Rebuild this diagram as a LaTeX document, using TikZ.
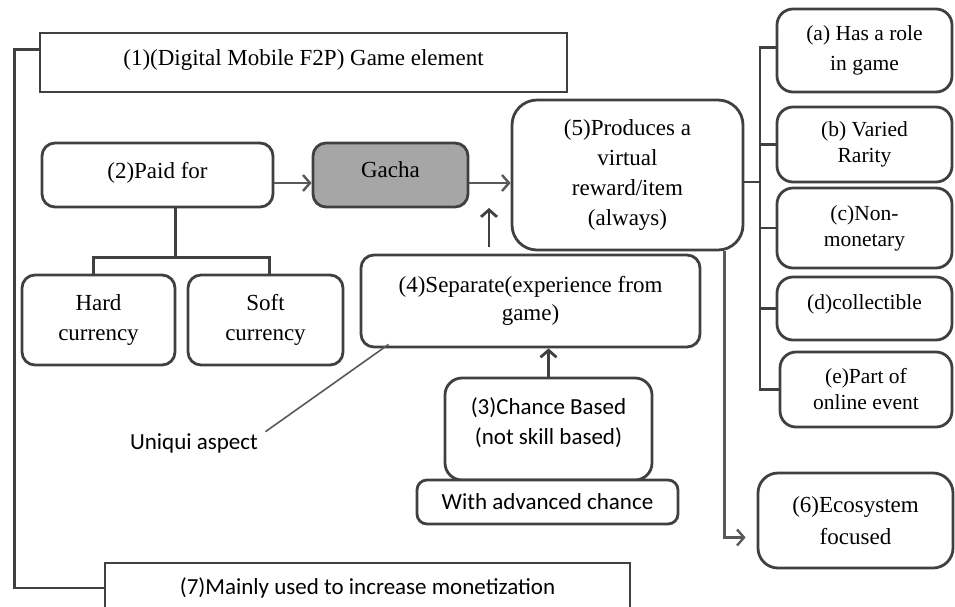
\documentclass[tikz,border=0pt]{standalone}
\usepackage{fontspec}
\setmainfont{Liberation Serif}
\newfontfamily\calibri{Carlito}
\usetikzlibrary{arrows.meta}
\definecolor{edge}{HTML}{404040}
\definecolor{link}{HTML}{595959}
\definecolor{gachagray}{HTML}{A6A6A6}
\begin{document}
\begin{tikzpicture}[x=1pt,y=-1pt,
  every node/.style={align=center,font=\fontsize{23}{30}\selectfont},
  flat/.style={draw=edge,line width=2.8pt,inner sep=0pt},
  box/.style={flat,rounded corners=13pt},
  side/.style={box,rounded corners=16pt,font=\fontsize{21.5}{30}\selectfont,minimum width=175pt},
  sans/.style={font=\calibri\fontsize{23}{30}\selectfont},
  link/.style={draw=link,line width=2.4pt},
  bar/.style={draw=edge,line width=2.8pt},
  >={Straight Barb[length=7pt,width=16pt]}]
\useasboundingbox (0,0) rectangle (955,606);

% boxes
\node[flat,minimum width=527pt,minimum height=59pt] (element) at (303.5,62.5) {(1)(Digital Mobile F2P) Game element\\[-21pt]};
\node[box,minimum width=231pt,minimum height=64pt] (paid) at (157.5,175) {(2)Paid for\\[-20pt]};
\node[box,fill=gachagray,minimum width=155pt,minimum height=64pt] (gacha) at (390.5,175) {Gacha\\[-20pt]};
\node[box,rounded corners=25pt,minimum width=231pt,minimum height=150pt] (reward) at (627.5,175) {(5)Produces a\\virtual\\reward/item\\(always)};
\node[box,minimum width=153pt,minimum height=90pt] (hard) at (98.5,320) {Hard\\currency};
\node[box,minimum width=155pt,minimum height=90pt] (soft) at (265.5,320) {Soft\\currency};
\node[box,minimum width=339pt,minimum height=92pt] (separate) at (530.5,301) {(4)Separate(experience from\\[-2pt]game)};
\node[box,sans,rounded corners=17pt,minimum width=207pt,minimum height=102pt] (chance) at (548.5,429) {(3)Chance Based\\(not skill based)\\[-14pt]};
\node[box,sans,fill=white,rounded corners=10pt,minimum width=261pt,minimum height=44pt] (advanced) at (547.5,502) {With advanced chance};
\node[sans] (aspect) at (194,443) {Uniqui aspect};

% right column
\node[side,minimum height=83pt] (role) at (864.5,50.5) {(a) Has a role\\in game};
\node[side,minimum height=75pt] (rarity) at (864.5,144.5) {(b) Varied\\[-4pt]Rarity};
\node[side,minimum height=80pt] (monetary) at (864.5,228) {(c)Non-\\[-4pt]monetary};
\node[side,minimum height=63pt] (collect) at (864.5,308.5) {(d)collectible\\[-18pt]};
\node[side,minimum width=172pt,minimum height=75pt] (event) at (866,389.5) {(e)Part of\\[-4pt]online event};
\node[box,rounded corners=20pt,minimum width=195pt,minimum height=95pt] (eco) at (855.5,520.5) {(6)Ecosystem\\[2pt]focused};
\node[flat,sans,minimum width=525pt,minimum height=50pt] (monet) at (367.5,588) {(7)Mainly used to increase monetization};

% connectors
\draw[bar] ([yshift=13pt]element.west) -- ++(-24,0) |- (monet.west);
\draw[link,->] ([yshift=-8pt]paid.east) -- ([yshift=-8pt]gacha.west);
\draw[link,->] ([yshift=-8pt]gacha.east) -- ([yshift=-8pt]reward.west);
\coordinate (up) at (489,208);
\draw[bar,->,shorten <=7pt] (separate.north -| up) -- (up);
\draw[bar] ([xshift=18pt]paid.south) -- ++(0,49) coordinate (fork);
\draw[bar] ([xshift=-5pt]hard.north) |- (fork) -| ([xshift=4pt]soft.north);
\draw[bar,->] (chance.north) -- (chance.north |- separate.south);
\draw[link,line width=1.6pt] ([xshift=4pt,yshift=-2pt]aspect.north east) -- ([xshift=29pt,yshift=4pt]separate.south west);

\coordinate (bus) at (760,0);
\draw[bar] ([yshift=-7pt]reward.east) -- ([yshift=-7pt]reward.east -| bus);
\draw[bar] ([yshift=3pt]role.west) -- ([yshift=3pt]role.west -| bus) -- (event.west -| bus) -- (event.west);
\foreach \n in {rarity,monetary,collect}
  \draw[bar] (\n.west) -- (\n.west -| bus);
\draw[link,->,shorten >=11pt] ([xshift=-20pt]reward.south east) |- ([yshift=-17pt]eco.west);
\end{tikzpicture}
\end{document}
